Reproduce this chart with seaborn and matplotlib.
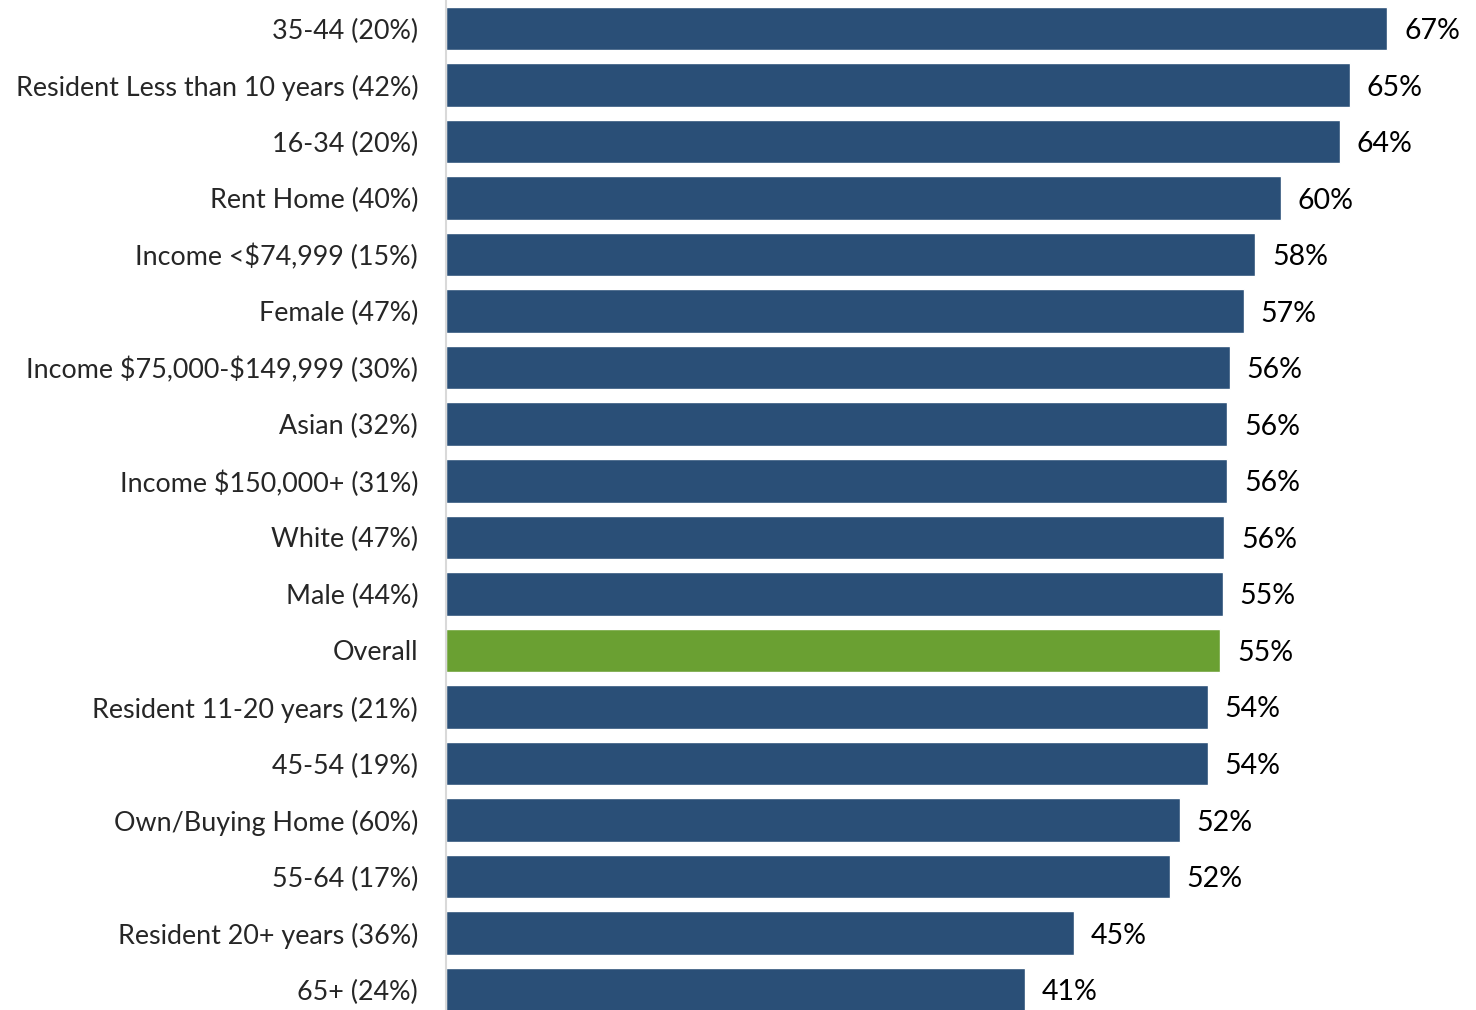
import pandas as pd
import numpy as np
import matplotlib
matplotlib.use("Agg")
import matplotlib.pyplot as plt
import seaborn as sns

# values
groups = ["35-44 (20%)", "Resident Less than 10 years (42%)", "16-34 (20%)",
          "Rent Home (40%)", "Income <$74,999 (15%)", "Female (47%)",
          "Income $75,000-$149,999 (30%)", "Asian (32%)", "Income $150,000+ (31%)",
          "White (47%)", "Male (44%)", "Overall", "Resident 11-20 years (21%)",
          "45-54 (19%)", "Own/Buying Home (60%)", "55-64 (17%)",
          "Resident 20+ years (36%)", "65+ (24%)"]
values = [67.0, 64.3, 63.6, 59.4, 57.6, 56.8, 55.8, 55.6, 55.6, 55.4,
          55.3, 55.1, 54.2, 54.2, 52.2, 51.5, 44.7, 41.2]
labels = ["67%", "65%", "64%", "60%", "58%", "57%", "56%", "56%", "56%",
          "56%", "55%", "55%", "54%", "54%", "52%", "52%", "45%", "41%"]

data = pd.DataFrame({"group": groups, "value": values})
data["kind"] = np.where(data["group"] == "Overall", "overall", "segment")

sns.set_style("white")
plt.rcParams["font.family"] = ["Lato", "DejaVu Sans"]
plt.rcParams["text.parse_math"] = False  # dollar signs are plain text here

fig = plt.figure(figsize=(14.76, 10.10), dpi=100)
ax = fig.add_axes([446 / 1476, 0, 1 - 446 / 1476, 1])

sns.barplot(data=data, x="value", y="group", hue="kind", orient="h",
            palette={"segment": "#2A4F77", "overall": "#6AA032"},
            width=0.77, dodge=False, legend=False, saturation=1, ax=ax)

for i, (v, lab) in enumerate(zip(values, labels)):
    ax.annotate(lab, (v, i), xytext=(12, 0), textcoords="offset points",
                va="center_baseline", ha="left", fontsize=20.5, color="black")

ax.set_xlim(0, 73.3)
ax.set_ylim(17.36, -0.504)
ax.set_xlabel("")
ax.set_ylabel("")
ax.set_xticks([])
ax.tick_params(axis="y", length=0, pad=20, labelsize=19.4)
for lbl in ax.get_yticklabels():
    lbl.set_verticalalignment("center_baseline")
for s in ["top", "right", "bottom"]:
    ax.spines[s].set_visible(False)
ax.spines["left"].set_color("#D9D9D9")
ax.spines["left"].set_linewidth(1.5)

plt.savefig("out.png", dpi=100)
